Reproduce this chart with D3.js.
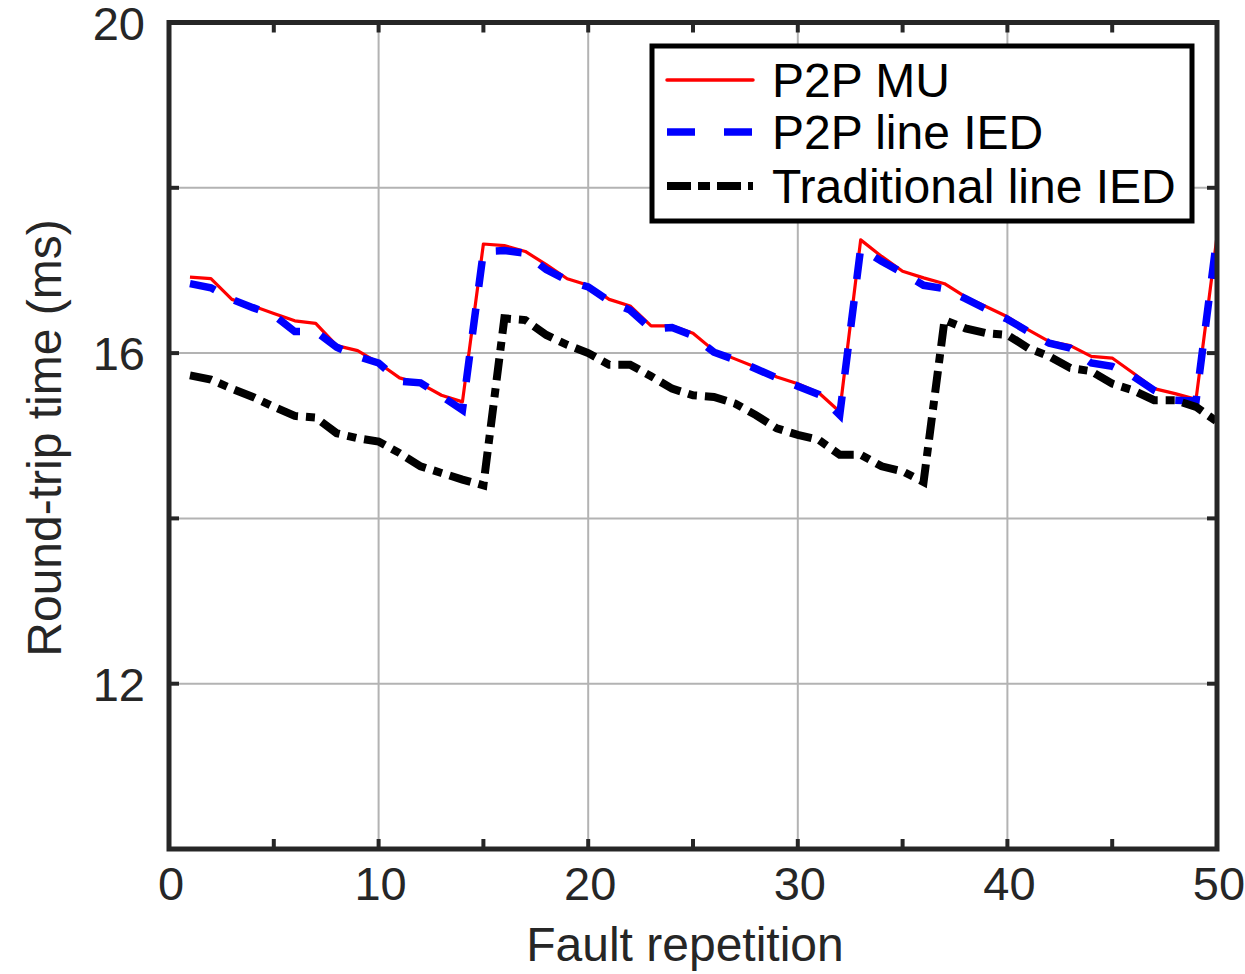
<!DOCTYPE html>
<html><head><meta charset="utf-8">
<script src="https://cdn.jsdelivr.net/npm/d3@7"></script>
<style>body{margin:0;background:#fff}svg{display:block}</style>
</head><body><svg id="c" width="1245" height="974"></svg>
<script>
const xs = d3.range(1, 51);
const p2pMU = [16.92,16.90,16.65,16.57,16.48,16.39,16.36,16.09,16.03,15.88,
  15.70,15.63,15.49,15.41,17.32,17.30,17.23,17.07,16.90,16.82,
  16.65,16.57,16.33,16.33,16.24,16.03,15.93,15.83,15.71,15.63,
  15.52,15.29,17.37,17.17,16.99,16.91,16.84,16.68,16.56,16.44,
  16.28,16.14,16.09,15.96,15.94,15.76,15.57,15.51,15.44,17.41];
const p2pLine = [16.84,16.79,16.65,16.55,16.46,16.26,16.26,16.07,15.96,15.88,
  15.66,15.64,15.48,15.31,17.23,17.24,17.21,17.01,16.88,16.80,
  16.63,16.52,16.29,16.31,16.21,16.01,15.92,15.81,15.70,15.60,
  15.50,15.25,17.27,17.11,16.97,16.82,16.78,16.66,16.53,16.41,
  16.26,16.12,16.06,15.88,15.84,15.72,15.55,15.43,15.42,17.41];
const tradLine = [15.73,15.68,15.57,15.47,15.35,15.24,15.22,15.03,14.97,14.93,
  14.79,14.63,14.55,14.47,14.40,16.42,16.40,16.22,16.10,16.00,
  15.86,15.86,15.72,15.57,15.49,15.47,15.39,15.25,15.09,15.01,
  14.95,14.77,14.77,14.63,14.57,14.44,16.40,16.30,16.24,16.22,
  16.06,15.96,15.82,15.78,15.63,15.55,15.43,15.43,15.35,15.17];
const seriesNames = ["P2P MU","P2P line IED","Traditional line IED"];
const xTicks = [0,10,20,30,40,50];
const xMinor = [5,15,25,35,45];
const yTicks = [12,14,16,18];
const yLabels = [12,16,20];

const svg = d3.select("#c");
const L=169, R=1217, T=22.5, B=849;
const x = d3.scaleLinear().domain([0,50]).range([L,R]);
const y = d3.scaleLinear().domain([10,20]).range([B,T]);
const axc = "#262626", font = "Liberation Sans, Arial, sans-serif";

// grid
const g = svg.append("g");
g.selectAll(".vg").data(xTicks.slice(1,-1)).enter().append("line")
  .attr("x1",d=>x(d)).attr("x2",d=>x(d)).attr("y1",T).attr("y2",B)
  .attr("stroke","#b3b3b3").attr("stroke-width",2);
g.selectAll(".hg").data(yTicks).enter().append("line")
  .attr("y1",d=>y(d)).attr("y2",d=>y(d)).attr("x1",L).attr("x2",R)
  .attr("stroke","#b3b3b3").attr("stroke-width",2);

// lines
svg.append("clipPath").attr("id","cp").append("rect")
  .attr("x",L).attr("y",T).attr("width",R-L).attr("height",B-T);
const line = d3.line().x((d,i)=>x(xs[i])).y(d=>y(d));
const lg = svg.append("g").attr("clip-path","url(#cp)");
lg.append("path").datum(p2pMU).attr("d",line).attr("fill","none")
  .attr("stroke","#ff0000").attr("stroke-width",3.2).attr("stroke-linejoin","round");
lg.append("path").datum(p2pLine).attr("d",line).attr("fill","none")
  .attr("stroke","#0000ff").attr("stroke-width",7.5).attr("stroke-dasharray","26,22");
lg.append("path").datum(tradLine).attr("d",line).attr("fill","none")
  .attr("stroke","#000").attr("stroke-width",8).attr("stroke-dasharray","22,8,9,8");

// box
svg.append("rect").attr("x",L).attr("y",T).attr("width",R-L).attr("height",B-T)
  .attr("fill","none").attr("stroke",axc).attr("stroke-width",5);

// ticks
const tk = svg.append("g").attr("stroke",axc).attr("stroke-width",4);
[...xTicks, ...xMinor].forEach(d=>{
  tk.append("line").attr("x1",x(d)).attr("x2",x(d)).attr("y1",B).attr("y2",B-10);
  tk.append("line").attr("x1",x(d)).attr("x2",x(d)).attr("y1",T).attr("y2",T+10);
});
[10,12,14,16,18,20].forEach(d=>{
  tk.append("line").attr("y1",y(d)).attr("y2",y(d)).attr("x1",L).attr("x2",L+10);
  tk.append("line").attr("y1",y(d)).attr("y2",y(d)).attr("x1",R).attr("x2",R-10);
});

// tick labels
svg.selectAll(".xl").data(xTicks).enter().append("text")
  .attr("x",d=>x(d)+2).attr("y",900).attr("text-anchor","middle")
  .attr("font-family",font).attr("font-size",47).attr("fill",axc).text(d=>d);
svg.selectAll(".yl").data(yLabels).enter().append("text")
  .attr("x",145).attr("y",d=>y(d)+17).attr("text-anchor","end")
  .attr("font-family",font).attr("font-size",47).attr("fill",axc).text(d=>d);

// axis titles
svg.append("text").attr("x",685).attr("y",961).attr("text-anchor","middle")
  .attr("font-family",font).attr("font-size",48).attr("fill",axc).text("Fault repetition");
svg.append("text").attr("transform","translate(61,438) rotate(-90)").attr("text-anchor","middle")
  .attr("font-family",font).attr("font-size",48).attr("fill",axc).text("Round-trip time (ms)");

// legend
const lgd = svg.append("g");
lgd.append("rect").attr("x",652).attr("y",46).attr("width",540).attr("height",175)
  .attr("fill","#fff").attr("stroke","#000").attr("stroke-width",5);
const styles = [
  {c:"#ff0000",w:3.5,d:null},
  {c:"#0000ff",w:7.5,d:"28,29"},
  {c:"#000",w:8,d:"24,7,12,7"}];
const lb = [97,149,203];
seriesNames.forEach((n,i)=>{
  const l = lgd.append("line").attr("x1",667).attr("x2",753).attr("y1",lb[i]-17).attr("y2",lb[i]-17)
    .attr("stroke",styles[i].c).attr("stroke-width",styles[i].w).attr("stroke-linecap",i==0?"round":"butt");
  if(styles[i].d) l.attr("stroke-dasharray",styles[i].d);
  lgd.append("text").attr("x",772).attr("y",lb[i]).attr("font-family",font)
    .attr("font-size",48).attr("fill","#000").text(n);
});
</script></body></html>
